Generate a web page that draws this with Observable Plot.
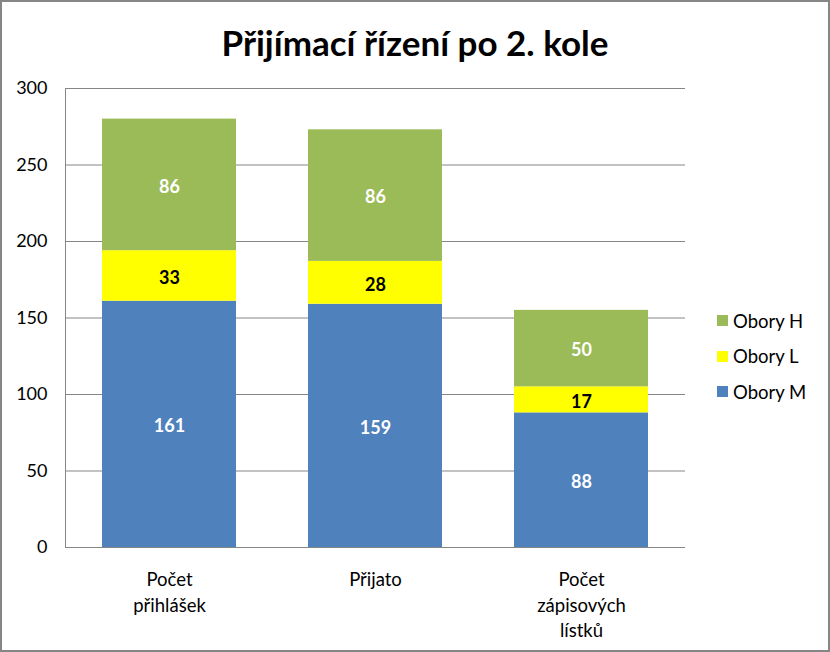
<!DOCTYPE html>
<html>
<head>
<meta charset="utf-8">
<script src="https://cdn.jsdelivr.net/npm/d3@7"></script>
<script src="https://cdn.jsdelivr.net/npm/@observablehq/plot@0.6"></script>
<style>
  html, body { margin: 0; padding: 0; background: #fff; }
  #chart {
    position: relative; width: 830px; height: 652px; box-sizing: border-box;
    border: 2px solid #868686; background: #fff; font-family: Lato, "Open Sans", sans-serif;
  }
  #title {
    height: 60px; padding-top: 10px; line-height: 60px; text-align: center;
    font-size: 35px; font-weight: bold; color: #000;
  }
  #legend { position: absolute; left: 715px; top: 301px; }
  .item { display: flex; align-items: center; height: 35.5px; font-size: 18.5px; color: #000; }
  .sw { width: 11px; height: 11px; margin-right: 5px; }
  svg { display: block; }
</style>
</head>
<body>
<div id="chart">
  <div id="title">Přijímací řízení po 2. kole</div>
  <div id="plot"></div>
  <div id="legend"></div>
</div>
<script>
const categories = ["Počet\npřihlášek", "Přijato", "Počet\nzápisových\nlístků"];
const series = ["Obory M", "Obory L", "Obory H"];
const colors = ["#4F81BD", "#FFFF00", "#9BBB59"];
const oboryM = [161, 159, 88];
const oboryL = [33, 28, 17];
const oboryH = [86, 86, 50];
const yTicks = [0, 50, 100, 150, 200, 250, 300];

const values = [oboryM, oboryL, oboryH];
const data = [];
series.forEach((s, i) => categories.forEach((c, j) => data.push({category: c, series: s, value: values[i][j]})));

const chart = Plot.plot({
  width: 826, height: 578,
  marginTop: 16, marginBottom: 103, marginLeft: 63, marginRight: 143,
  style: {fontFamily: "Lato, 'Open Sans', sans-serif", color: "#000", background: "transparent"},
  x: {domain: categories, paddingInner: 0.35, paddingOuter: 0.175, label: null},
  y: {domain: [0, 300], ticks: yTicks, label: null},
  color: {domain: series, range: colors},
  marks: [
    Plot.gridY(yTicks.filter(t => t > 0), {stroke: "#868686", strokeOpacity: 1}),
    Plot.barY(data, {x: "category", y: "value", fill: "series", order: series}),
    Plot.text(data, Plot.stackY({
      x: "category", y: "value", z: "series", order: series,
      text: d => String(d.value),
      fill: d => d.series === "Obory L" ? "#000" : "#fff",
      fontWeight: "bold", fontSize: 18, dy: 2
    })),
    Plot.ruleY([0], {stroke: "#868686"}),
    Plot.frame({anchor: "left", stroke: "#868686"}),
    Plot.axisY({ticks: yTicks, tickSize: 0, tickPadding: 18, fontSize: 18, label: null}),
    Plot.axisX({tickSize: 0, tickPadding: 21, fontSize: 18.5, lineHeight: 1.36, label: null})
  ]
});
document.getElementById("plot").appendChild(chart);

const legend = document.getElementById("legend");
[...series].reverse().forEach(s => {
  const i = series.indexOf(s);
  const row = document.createElement("div");
  row.className = "item";
  row.innerHTML = `<div class="sw" style="background:${colors[i]}"></div><span>${s}</span>`;
  legend.appendChild(row);
});
</script>
</body>
</html>
